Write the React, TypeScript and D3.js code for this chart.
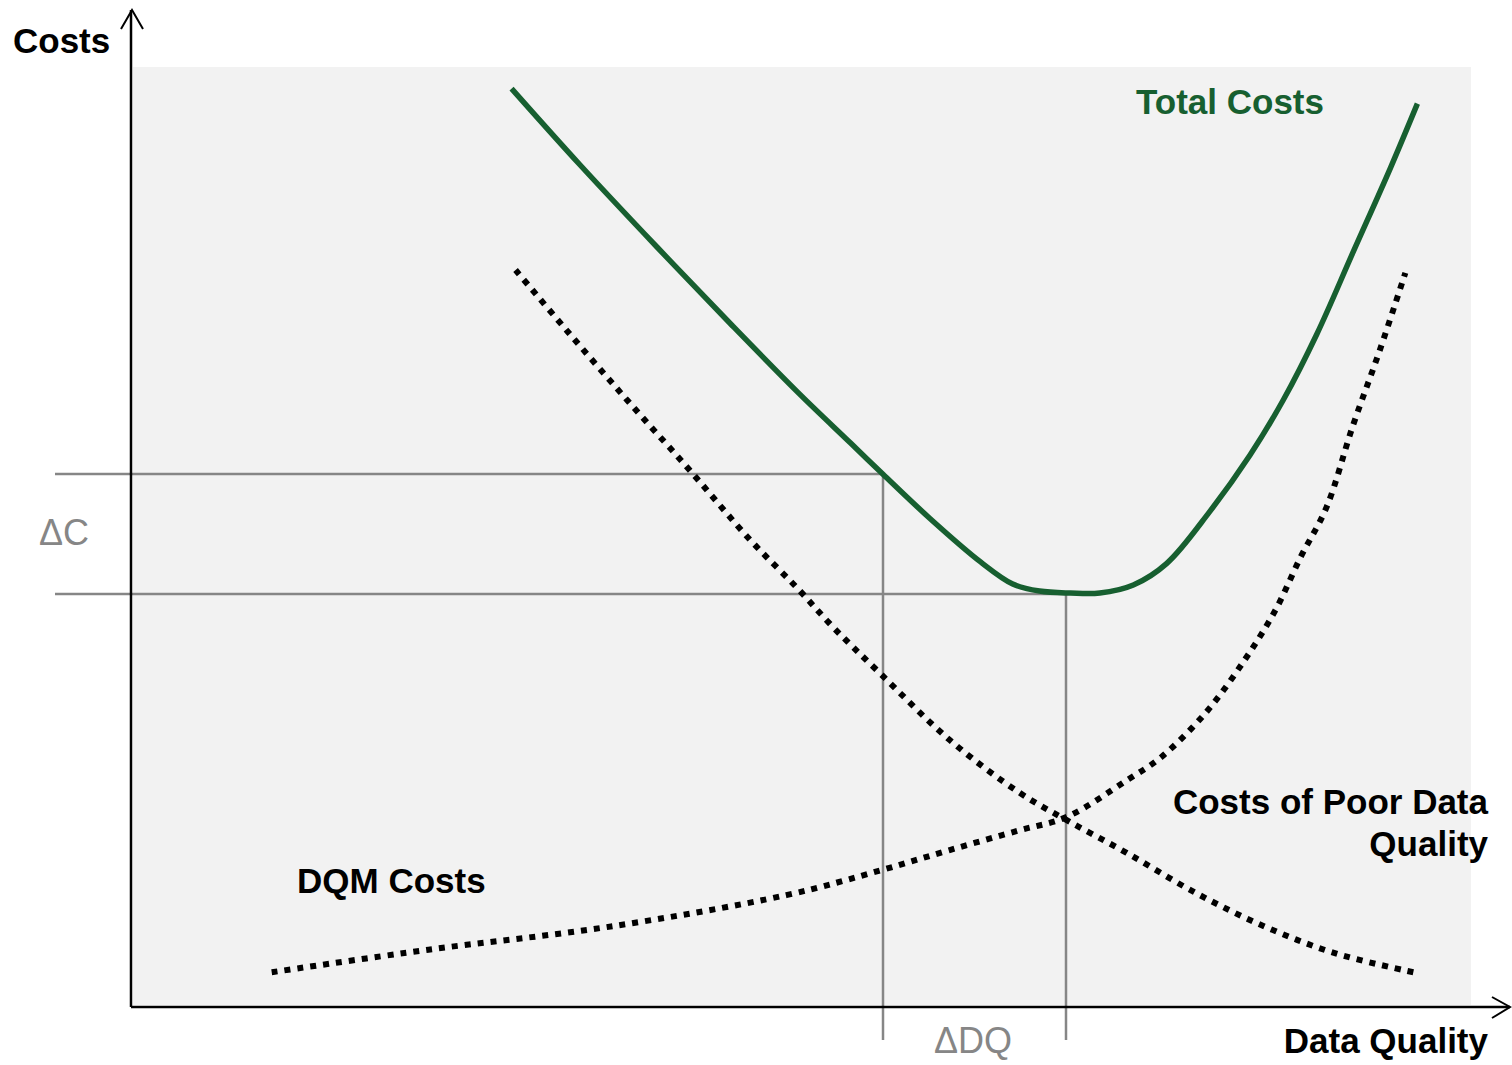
import * as d3 from 'd3';

// Data quality (x, 0–100) and costs (y, 0–100)
const totalQuality = [28.4, 33.5, 39.25, 44.9, 49.9, 53.7, 56.1, 59.6, 63.4, 65.8, 67.8, 70.1, 72.3, 74.8, 77.3, 80.5, 83.5, 86.0, 88.5, 91.2, 94.0, 96.0];
const totalCosts = [97.7, 89.6, 80.85, 72.45, 65.2, 60.0, 56.7, 52.0, 47.35, 45.0, 44.25, 44.04, 44.04, 44.9, 47.2, 52.7, 58.7, 64.6, 71.6, 80.3, 89.3, 96.1];

const poorQuality = [28.7, 32.5, 37.0, 41.7, 46.2, 49.7, 52.4, 55.9, 61.1, 66.3, 69.8, 74.3, 79.5, 84.7, 89.9, 95.7];
const poorCosts = [78.4, 72.0, 64.6, 57.1, 49.7, 44.6, 40.4, 35.5, 28.4, 22.8, 19.9, 16.4, 12.1, 8.5, 5.7, 3.7];

const dqmQuality = [10.5, 22.2, 35.5, 48.9, 56.1, 61.1, 66.3, 69.8, 74.3, 76.9, 80.2, 83.1, 85.4, 87.3, 89.2, 91.2, 93.2, 95.1];
const dqmCosts = [3.7, 6.1, 8.5, 11.9, 14.6, 16.7, 18.8, 20.2, 24.1, 26.6, 31.3, 36.9, 42.2, 47.9, 53.1, 61.9, 69.9, 78.1];

// optimum markers: [before, optimum]
const markerQuality = [56.1, 69.8];
const markerCosts = [56.7, 43.9];

const W = 1512;
const H = 1065;

const x = d3.scaleLinear().domain([0, 100]).range([131, 1471]);
const y = d3.scaleLinear().domain([0, 100]).range([1007, 67]);

const line = d3
  .line<[number, number]>()
  .x((d) => x(d[0]))
  .y((d) => y(d[1]))
  .curve(d3.curveCatmullRom.alpha(0.5));

const zip = (a: number[], b: number[]) => a.map((v, i) => [v, b[i]] as [number, number]);

const GREEN = '#175f30';
const GREY = '#868686';
const FONT = '"Liberation Sans", Arial, sans-serif';

export default function App() {
  const x0 = x(0);
  const y0 = y(0);
  const refLeft = 55;
  const refBottom = 1040;
  const mx = markerQuality.map((v) => Math.round(x(v)));
  const my = markerCosts.map((v) => Math.round(y(v)));

  return (
    <svg width={W} height={H} style={{ position: 'absolute', left: 0, top: 0 }} fontFamily={FONT}>
      <rect x={0} y={0} width={W} height={H} fill="#ffffff" />
      <rect x={x0 + 2} y={y(100)} width={x(100) - x0 - 2} height={y0 - 2 - y(100)} fill="#f2f2f2" />

      {/* reference lines */}
      <g stroke={GREY} strokeWidth={2.5} fill="none">
        <line x1={refLeft} x2={mx[0]} y1={my[0]} y2={my[0]} />
        <line x1={refLeft} x2={mx[1]} y1={my[1]} y2={my[1]} />
        <line x1={mx[0]} x2={mx[0]} y1={my[0]} y2={refBottom} />
        <line x1={mx[1]} x2={mx[1]} y1={my[1]} y2={refBottom} />
      </g>

      {/* curves */}
      <path d={line(zip(poorQuality, poorCosts)) || ''} fill="none" stroke="#000" strokeWidth={6} strokeDasharray="6 7" />
      <path d={line(zip(dqmQuality, dqmCosts)) || ''} fill="none" stroke="#000" strokeWidth={6} strokeDasharray="6 7" />
      <path d={line(zip(totalQuality, totalCosts)) || ''} fill="none" stroke={GREEN} strokeWidth={5.5} />

      {/* axes */}
      <g stroke="#000" strokeWidth={2.5} fill="none">
        <line x1={x0} x2={x0} y1={y0} y2={10} />
        <polyline points={`${x0 - 10},29 ${x0 + 1},10 ${x0 + 12},29`} strokeWidth={2} />
        <line x1={x0} x2={1510} y1={y0} y2={y0} />
        <polyline points={`1492,997 1510,${y0} 1492,1018`} strokeWidth={2} />
      </g>

      {/* labels */}
      <g fontWeight="bold" fontSize={35} fill="#000">
        <text x={13} y={53}>Costs</text>
        <text x={1488} y={1053} textAnchor="end">Data Quality</text>
        <text x={297} y={893}>DQM Costs</text>
        <text x={1488} y={814} textAnchor="end">Costs of Poor Data</text>
        <text x={1488} y={856} textAnchor="end">Quality</text>
        <text x={1136} y={114} fill={GREEN}>Total Costs</text>
      </g>
      <g fontSize={36} fill={GREY}>
        <text x={39} y={545}>ΔC</text>
        <text x={934} y={1053}>ΔDQ</text>
      </g>
    </svg>
  );
}
